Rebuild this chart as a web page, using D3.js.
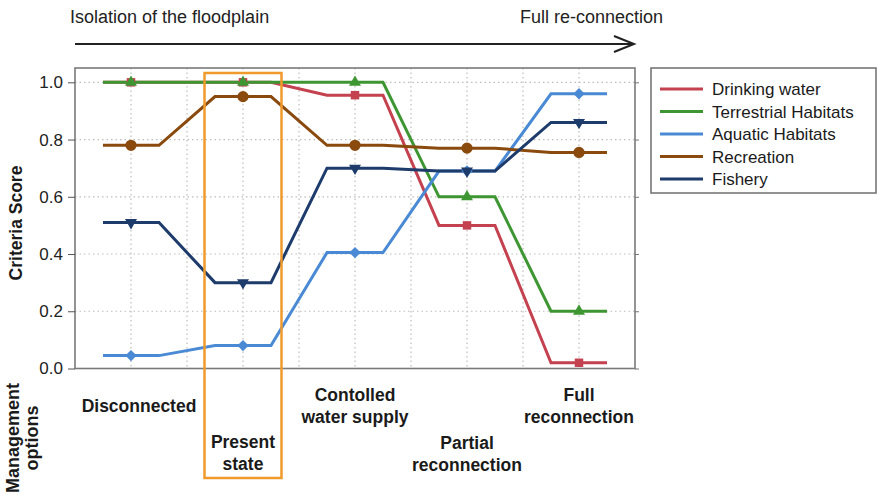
<!DOCTYPE html>
<html>
<head>
<meta charset="utf-8">
<script src="https://cdn.jsdelivr.net/npm/d3@7"></script>
<style>
  body { margin: 0; background: #fff; }
  svg { display: block; font-family: "Liberation Sans", Arial, sans-serif; }
</style>
</head>
<body>
<svg id="chart" width="879" height="500"></svg>
<script>
// ---- data ----
const categories = ["Disconnected", "Present state", "Contolled water supply", "Partial reconnection", "Full reconnection"];
const categoryLines = [["Disconnected"], ["Present", "state"], ["Contolled", "water supply"], ["Partial", "reconnection"], ["Full", "reconnection"]];
const seriesNames = ["Drinking water", "Terrestrial Habitats", "Aquatic Habitats", "Recreation", "Fishery"];
const drinkingWater = [1.0, 1.0, 0.955, 0.5, 0.02];
const terrestrialHabitats = [1.0, 1.0, 1.0, 0.6, 0.2];
const aquaticHabitats = [0.045, 0.08, 0.405, 0.69, 0.96];
const recreation = [0.78, 0.95, 0.78, 0.77, 0.755];
const fishery = [0.51, 0.30, 0.70, 0.69, 0.86];
const yTicks = [0.0, 0.2, 0.4, 0.6, 0.8, 1.0];
const topLeftLabel = "Isolation of the floodplain";
const topRightLabel = "Full re-connection";
const yTitle = "Criteria Score";
const xTitleLines = ["Management", "options"];

// ---- styles ----
const seriesValues = [drinkingWater, terrestrialHabitats, aquaticHabitats, recreation, fishery];
const colors = ["#c4424f", "#3e9633", "#4a8ad4", "#8a4a0e", "#1d3b6b"];
const markerKinds = ["square", "triup", "diamond", "circle", "tridown"];

const svg = d3.select("#chart");
const L = 75, R = 635, T = 68, B = 368.5;
const x = d3.scaleLinear().domain([-0.5, 4.5]).range([L, R]);
const y = d3.scaleLinear().domain([0, 1.05]).range([B, T]);

// gridlines
const grid = svg.append("g");
grid.selectAll("line.h").data(yTicks.filter(d => d > 0)).join("line")
  .attr("x1", L).attr("x2", R).attr("y1", d => y(d)).attr("y2", d => y(d))
  .attr("stroke", "#bdbdbd").attr("stroke-width", 1.2).attr("stroke-dasharray", "1.5,3");
grid.selectAll("line.v").data(d3.range(0, 4.01, 0.5)).join("line")
  .attr("x1", d => x(d)).attr("x2", d => x(d)).attr("y1", T).attr("y2", B)
  .attr("stroke", "#bdbdbd").attr("stroke-width", 1.2).attr("stroke-dasharray", "1.5,3");

// frame
svg.append("rect").attr("x", L).attr("y", T).attr("width", R - L).attr("height", B - T)
  .attr("fill", "none").attr("stroke", "#7a7a7a").attr("stroke-width", 1.6);

// y axis
const yAxis = d3.axisLeft(y).tickValues(yTicks).tickFormat(d3.format(".1f")).tickSize(7).tickPadding(5);
const ga = svg.append("g").attr("transform", `translate(${L},0)`).call(yAxis);
ga.select(".domain").remove();
ga.selectAll(".tick line").attr("stroke", "#555");
ga.selectAll(".tick text").attr("font-size", 17).attr("fill", "#222").attr("font-family", "Liberation Sans, Arial, sans-serif");
const yAxisR = d3.axisRight(y).tickValues(yTicks).tickSize(4).tickFormat("");
const gr = svg.append("g").attr("transform", `translate(${R},0)`).call(yAxisR);
gr.select(".domain").remove();
gr.selectAll(".tick line").attr("stroke", "#777");

// lines: flat segment around each category, linear transitions between
function pts(vals) {
  const p = [];
  vals.forEach((v, i) => { p.push([i - 0.25, v]); p.push([i + 0.25, v]); });
  return p;
}
const line = d3.line().x(d => x(d[0])).y(d => y(d[1]));
seriesValues.forEach((vals, s) => {
  svg.append("path").datum(pts(vals)).attr("d", line)
    .attr("fill", "none").attr("stroke", colors[s]).attr("stroke-width", 3)
    .attr("stroke-linejoin", "miter");
});
function markerPath(kind) {
  if (kind === "square") return { d: d3.symbol(d3.symbolSquare, 72)(), rot: 0 };
  if (kind === "diamond") return { d: d3.symbol(d3.symbolSquare, 64)(), rot: 45 };
  if (kind === "circle") return { d: d3.symbol(d3.symbolCircle, 100)(), rot: 0 };
  if (kind === "triup") return { d: d3.symbol(d3.symbolTriangle, 62)(), rot: 0 };
  return { d: d3.symbol(d3.symbolTriangle, 62)(), rot: 180 };
}
seriesValues.forEach((vals, s) => {
  const g = svg.append("g");
  const m = markerPath(markerKinds[s]);
  g.selectAll("path").data(vals).join("path")
    .attr("d", m.d)
    .attr("transform", (v, i) => `translate(${x(i)},${y(v)}) rotate(${m.rot})`)
    .attr("fill", colors[s]);
});

// orange box around present state
svg.append("rect").attr("x", x(1) - 38.5).attr("y", 73).attr("width", 77).attr("height", 405)
  .attr("fill", "none").attr("stroke", "#f09a2c").attr("stroke-width", 2.5);

// category labels
const labelDx = [8, 0, 0, 0, 0];
const labelY = [[412], [448, 470], [401, 423], [449, 471], [401, 423]];
categoryLines.forEach((lines, i) => {
  lines.forEach((t, k) => {
    svg.append("text").attr("x", x(i) + labelDx[i]).attr("y", labelY[i][k])
      .attr("text-anchor", "middle").attr("font-size", 17.5).attr("font-weight", "bold")
      .attr("fill", "#1a1a1a").text(t);
  });
});

// axis titles
svg.append("text").attr("transform", "translate(22,223) rotate(-90)")
  .attr("text-anchor", "middle").attr("font-size", 17.5).attr("font-weight", "bold")
  .attr("fill", "#1a1a1a").text(yTitle);
const mt = svg.append("text").attr("transform", "translate(19,438) rotate(-90)")
  .attr("text-anchor", "middle").attr("font-size", 18).attr("font-weight", "bold").attr("fill", "#1a1a1a");
xTitleLines.forEach((t, k) => mt.append("tspan").attr("x", 0).attr("dy", k === 0 ? 0 : "1.05em").text(t));

// top arrow and texts
svg.append("text").attr("x", 70).attr("y", 23).attr("font-size", 18).attr("fill", "#222").text(topLeftLabel);
svg.append("text").attr("x", 520).attr("y", 23).attr("font-size", 18).attr("fill", "#222").text(topRightLabel);
svg.append("line").attr("x1", 75).attr("x2", 634).attr("y1", 44).attr("y2", 44).attr("stroke", "#222").attr("stroke-width", 2);
svg.append("path").attr("d", "M614,36 L634,44 L614,52").attr("fill", "none").attr("stroke", "#222").attr("stroke-width", 2);

// legend
const lg = svg.append("g");
lg.append("rect").attr("x", 651).attr("y", 68).attr("width", 225).attr("height", 125)
  .attr("fill", "#fff").attr("stroke", "#777").attr("stroke-width", 1.6);
seriesNames.forEach((n, i) => {
  const yy = 89 + i * 22.5;
  lg.append("line").attr("x1", 660).attr("x2", 703).attr("y1", yy).attr("y2", yy)
    .attr("stroke", colors[i]).attr("stroke-width", 3);
  lg.append("text").attr("x", 712).attr("y", yy + 6).attr("font-size", 17).attr("fill", "#1a1a1a").text(n);
});
</script>
</body>
</html>
